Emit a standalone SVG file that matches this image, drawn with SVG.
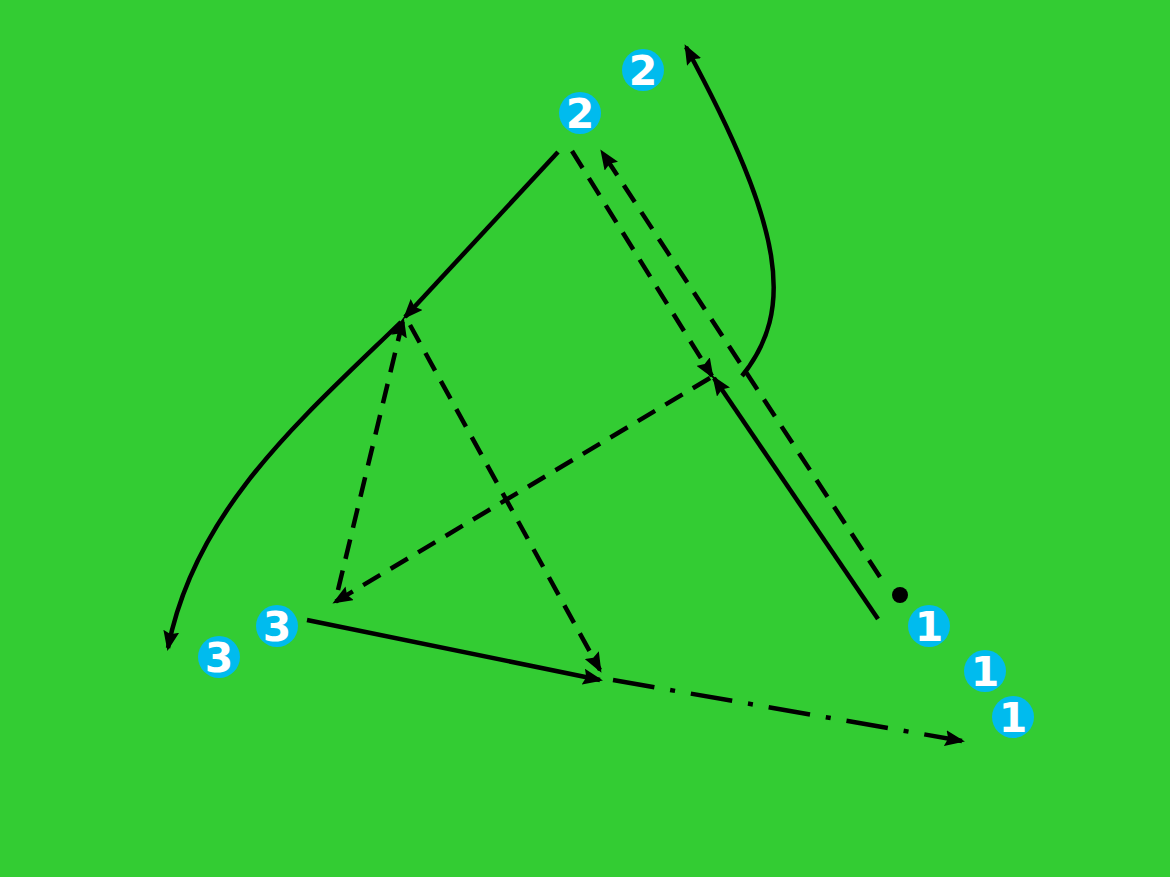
<svg xmlns="http://www.w3.org/2000/svg" width="1170" height="877" viewBox="0 0 1170 877">
<style>
.ln{fill:none;stroke:#000;stroke-width:4.5;marker-end:url(#ah)}
.d{stroke-dasharray:20,12}
.dd{stroke-dasharray:42,16,5,16}
.b circle{fill:#00bbee}
.b text{fill:#fff;font-family:"DejaVu Sans",sans-serif;font-weight:bold;font-size:41px;text-anchor:middle}
</style>
<defs>
<marker id="ah" markerUnits="userSpaceOnUse" markerWidth="20" markerHeight="16" refX="17" refY="8" orient="auto" viewBox="0 0 20 16">
<path d="M0,0 L20,8 L0,16 L3,8 z" fill="#000"/>
</marker>
</defs>
<rect width="1170" height="877" fill="#33cc33"/>
<g id="connectors">
<path class="ln" d="M558,152 L405,317"/>
<path class="ln" d="M401,322 C300,420 195,510 168,648"/>
<path class="ln d" d="M572,151 L712,376"/>
<path class="ln d" d="M880,577 L602,152"/>
<path class="ln" d="M878,619 L714,378"/>
<path class="ln" d="M742,376 C795,310 785,230 686,47"/>
<path class="ln d" d="M710,378 L335,602"/>
<path class="ln d" d="M338,590 L403,320"/>
<path class="ln d" d="M410,325 L600,670"/>
<path class="ln" d="M307,620 L600,680"/>
<path class="ln dd" d="M613,680 L962,741"/>
</g>
<g id="dot"><circle cx="900" cy="595" r="8" fill="#000"/></g>
<g id="badge-2a" class="b"><circle cx="643" cy="70" r="21"/><text x="643" y="85">2</text></g>
<g id="badge-2b" class="b"><circle cx="580" cy="113" r="21"/><text x="580" y="128">2</text></g>
<g id="badge-3a" class="b"><circle cx="277" cy="626" r="21"/><text x="277" y="641">3</text></g>
<g id="badge-3b" class="b"><circle cx="219" cy="657" r="21"/><text x="219" y="672">3</text></g>
<g id="badge-1a" class="b"><circle cx="929" cy="626" r="21"/><text x="929" y="641">1</text></g>
<g id="badge-1b" class="b"><circle cx="985" cy="671" r="21"/><text x="985" y="686">1</text></g>
<g id="badge-1c" class="b"><circle cx="1013" cy="717" r="21"/><text x="1013" y="732">1</text></g>
</svg>
